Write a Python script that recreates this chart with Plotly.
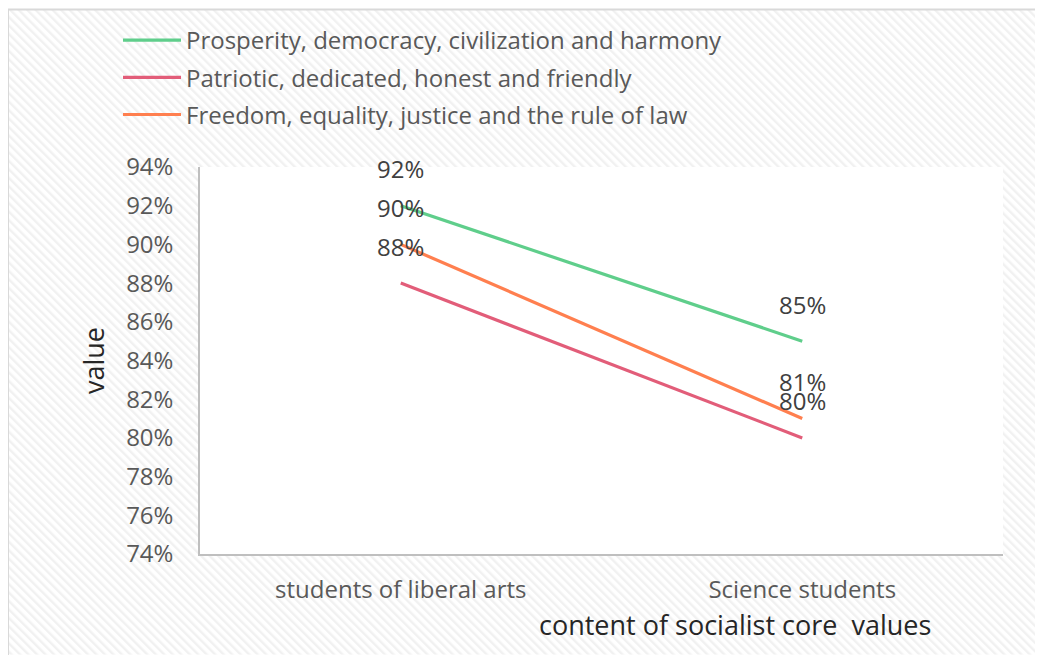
import base64
import plotly.graph_objects as go

categories = ["students of liberal arts", "Science students"]
series_names = [
    "Prosperity, democracy, civilization and harmony",
    "Patriotic, dedicated, honest and friendly",
    "Freedom, equality, justice and the rule of law",
]
prosperity = [0.92, 0.85]
patriotic = [0.88, 0.80]
freedom = [0.90, 0.81]
series_values = [prosperity, patriotic, freedom]
colors = ["#5FCE8B", "#E25D79", "#FF7F4F"]
y_ticks = [0.74, 0.76, 0.78, 0.80, 0.82, 0.84, 0.86, 0.88, 0.90, 0.92, 0.94]

# page body margin offsets the figure by 8px
O = 8
W, H = 1043 - O, 655 - O
L, R, T, B = 200 - O, 1003 - O, 166 - O, 554 - O
pw, ph = R - L, B - T


def px(x):
    """screen x -> paper x"""
    return (x - O - L) / pw


def py(y):
    """screen y -> paper y"""
    return (B - (y - O)) / ph


FONT = "Open Sans"

fig = go.Figure()
for name, vals, col in zip(series_names, series_values, colors):
    fig.add_trace(go.Scatter(
        x=categories, y=vals, name=name, mode="lines",
        line=dict(color=col, width=3.2), legendgroup=name,
    ))
    for c, v in zip(categories, vals):
        fig.add_annotation(x=c, y=v, xref="x", yref="y", text=f"{v:.0%}",
                           showarrow=False, yshift=37, yanchor="middle",
                           font=dict(family=FONT, size=24, color="#404040"))

svg = (
    f'<svg xmlns="http://www.w3.org/2000/svg" width="{W}" height="{H}">'
    '<defs><pattern id="p" width="6" height="6" patternUnits="userSpaceOnUse" '
    'patternTransform="rotate(-45)"><rect width="6" height="6" fill="#ffffff"/>'
    '<rect width="2.4" height="6" fill="#f1f1f1"/></pattern></defs>'
    f'<rect width="{W}" height="{H}" fill="url(#p)"/></svg>'
)
src = "data:image/svg+xml;base64," + base64.b64encode(svg.encode()).decode()
fig.add_layout_image(dict(source=src, xref="paper", yref="paper",
                          x=-L / pw, y=B / ph, sizex=W / pw, sizey=H / ph,
                          xanchor="left", yanchor="top", sizing="stretch",
                          layer="below"))

fig.add_shape(type="rect", xref="paper", yref="paper", x0=0, x1=1, y0=0, y1=1,
              fillcolor="white", line=dict(width=0), layer="below")
fig.add_shape(type="rect", xref="paper", yref="paper",
              x0=px(8), x1=px(1070), y0=py(8), y1=py(690),
              line=dict(color="#d9d9d9", width=2), layer="above")

fig.add_annotation(text="content of socialist core\u00a0 values", xref="paper", yref="paper",
                   x=px(735), y=py(625), showarrow=False, xanchor="center", yanchor="middle",
                   font=dict(family=FONT, size=27, color="#262626"))

fig.update_layout(
    width=W, height=H,
    margin=dict(l=L, r=W - R, t=T, b=H - B, pad=0),
    paper_bgcolor="white", plot_bgcolor="white",
    font=dict(family=FONT, color="#595959"),
    showlegend=True,
    legend=dict(x=px(118), y=py(18), xanchor="left", yanchor="top",
                bgcolor="rgba(0,0,0,0)", font=dict(family=FONT, size=24, color="#595959"),
                tracegroupgap=3, itemwidth=58),
    xaxis=dict(range=[-0.5, 1.5], type="category", showgrid=False, zeroline=False,
               showline=True, linecolor="#bfbfbf", linewidth=1.5, ticks="",
               tickfont=dict(family=FONT, size=24, color="#595959"), ticklabelstandoff=13),
    yaxis=dict(range=[0.74, 0.94], tickvals=y_ticks, tickformat=".0%", showgrid=False,
               zeroline=False, showline=True, linecolor="#bfbfbf", linewidth=1.5, ticks="",
               tickfont=dict(family=FONT, size=24, color="#595959"), ticklabelstandoff=20,
               title=dict(text="value", standoff=14,
                          font=dict(family=FONT, size=27, color="#262626"))),
)

fig.write_html("out.html")
